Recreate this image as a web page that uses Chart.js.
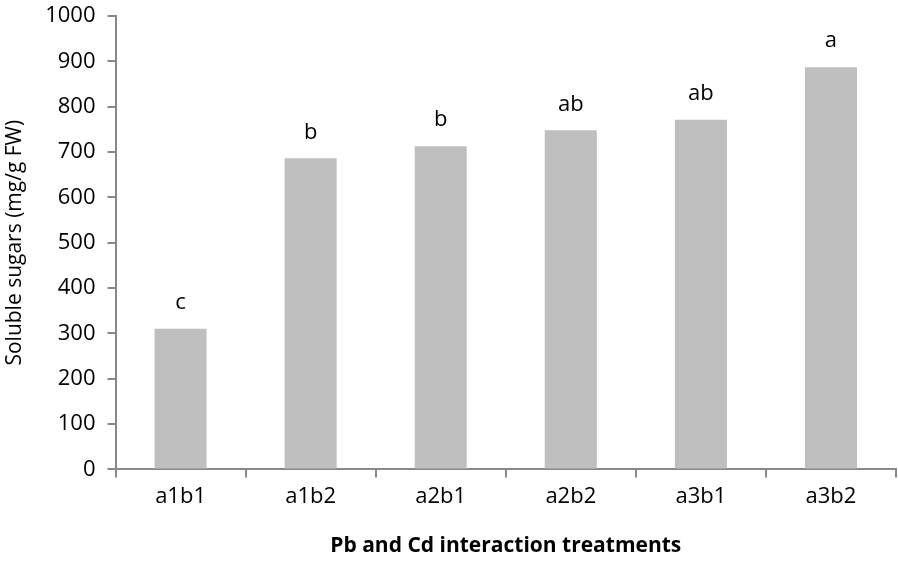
<!DOCTYPE html>
<html lang="en">
<head>
    <meta charset="UTF-8">
    <title>Soluble sugars</title>
    <script src="https://cdn.jsdelivr.net/npm/chart.js"></script>
    <style>
        body { margin: 0; background: #fff; }
        .chart-container { position: relative; width: 898px; height: 562px; }
    </style>
</head>
<body>
    <div class="chart-container">
        <canvas id="sugarChart"></canvas>
    </div>

    <script>
        const treatments = ['a1b1', 'a1b2', 'a2b1', 'a2b2', 'a3b1', 'a3b2'];
        const solubleSugars = [310, 686, 713, 748, 771, 887];
        const letters = ['c', 'b', 'b', 'ab', 'ab', 'a'];

        const axisGrey = '#898989';
        const fontName = "'Open Sans', sans-serif";

        // letters drawn above each bar
        const letterPlugin = {
            id: 'letters',
            afterDatasetsDraw(chart) {
                const ctx = chart.ctx;
                const meta = chart.getDatasetMeta(0);
                ctx.save();
                ctx.fillStyle = '#000';
                ctx.font = '22px ' + fontName;
                ctx.textAlign = 'center';
                ctx.textBaseline = 'bottom';
                meta.data.forEach((bar, i) => {
                    ctx.fillText(letters[i], bar.x, bar.y - 15);
                });
                ctx.restore();
            }
        };

        new Chart(document.getElementById('sugarChart'), {
            type: 'bar',
            data: {
                labels: treatments,
                datasets: [{
                    data: solubleSugars,
                    backgroundColor: '#bfbfbf',
                    barPercentage: 0.4,
                    categoryPercentage: 1.0
                }]
            },
            options: {
                responsive: true,
                maintainAspectRatio: false,
                animation: false,
                layout: { padding: { top: 2, right: 2, left: 2, bottom: 3 } },
                plugins: {
                    legend: { display: false },
                    tooltip: { enabled: false }
                },
                scales: {
                    x: {
                        grid: {
                            offset: true,
                            drawOnChartArea: false,
                            color: axisGrey,
                            tickLength: 8,
                            lineWidth: 2
                        },
                        border: { color: axisGrey, width: 2 },
                        ticks: {
                            color: '#000',
                            font: { family: fontName, size: 22 },
                            padding: 6
                        },
                        title: {
                            display: true,
                            text: 'Pb and Cd interaction treatments',
                            color: '#000',
                            font: { family: fontName, size: 21, weight: 'bold' },
                            padding: { top: 18, bottom: 0 }
                        }
                    },
                    y: {
                        min: 0,
                        max: 1000,
                        afterFit: s => { s.paddingTop = 16; },
                        grid: {
                            drawOnChartArea: false,
                            color: axisGrey,
                            tickLength: 8,
                            lineWidth: 2
                        },
                        border: { color: axisGrey, width: 2 },
                        ticks: {
                            stepSize: 100,
                            color: '#000',
                            font: { family: fontName, size: 22 },
                            padding: 12,
                            callback: v => String(v)
                        },
                        title: {
                            display: true,
                            text: 'Soluble sugars (mg/g FW)',
                            color: '#000',
                            font: { family: fontName, size: 21 },
                            padding: { top: 0, bottom: 6 }
                        }
                    }
                }
            },
            plugins: [letterPlugin]
        });
    </script>
</body>
</html>
